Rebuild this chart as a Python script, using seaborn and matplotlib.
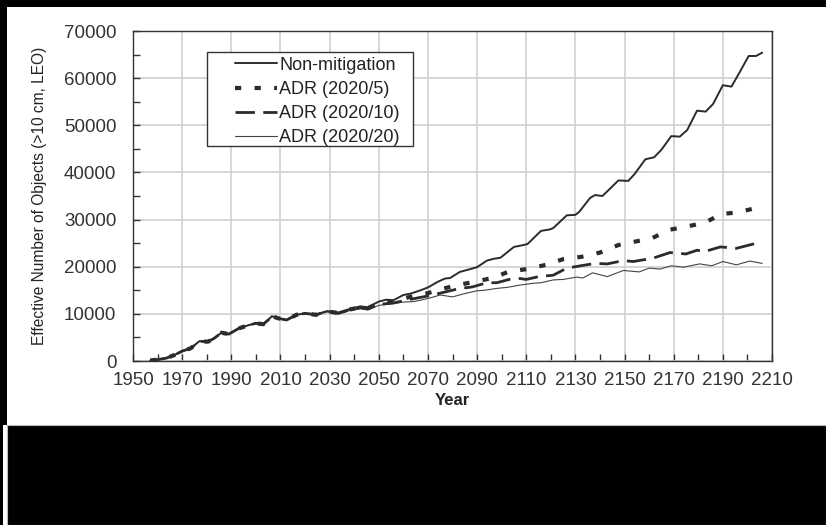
import numpy as np
import pandas as pd
import seaborn as sns
import matplotlib.pyplot as plt
from matplotlib.patches import Rectangle

# shared history, thousands of objects
hist_years = [1957, 1960, 1963.5, 1967, 1970, 1973.5, 1977, 1980.5, 1983, 1986, 1989,
              1993, 1997, 2000, 2003, 2005, 2006.5, 2009.5, 2012.5, 2016.5, 2020]
hist_vals = [0.1, 0.3, 0.6, 1.3, 2.1, 2.7, 4.2, 4.1, 4.8, 6.0, 5.7,
             6.9, 7.6, 8.0, 7.8, 8.7, 9.5, 9.0, 8.7, 9.8, 10.1]

# Non-mitigation
nm_years = [2024.5, 2029, 2033.5, 2038, 2042.5, 2045.5, 2050, 2053, 2056, 2060, 2063,
            2067, 2070, 2074, 2077, 2079, 2083, 2088, 2090, 2094, 2097, 2099.5, 2105,
            2108, 2110.5, 2116, 2119.5, 2121, 2126.5, 2130, 2131.5, 2136, 2138, 2141,
            2143, 2147.5, 2151.5, 2154, 2158.5, 2162, 2165, 2169, 2172.5, 2175.5,
            2179.5, 2183, 2186, 2190, 2193.5, 2197, 2200.5, 2203.5, 2206]
nm_vals = [9.9, 10.6, 10.3, 11.0, 11.6, 11.4, 12.6, 13.0, 12.9, 14.0, 14.3,
           15.0, 15.6, 16.8, 17.5, 17.6, 18.9, 19.6, 19.9, 21.3, 21.7, 21.9, 24.2,
           24.5, 24.8, 27.6, 27.9, 28.2, 30.9, 31.0, 31.6, 34.6, 35.2, 35.0,
           36.0, 38.3, 38.2, 39.6, 42.8, 43.2, 44.8, 47.7, 47.6, 49.0,
           53.1, 52.9, 54.5, 58.5, 58.2, 61.4, 64.7, 64.7, 65.4]

# ADR (2020/5)
a5_years = [2024.5, 2029, 2033.5, 2038, 2042.5, 2045.5, 2050, 2056, 2061, 2066, 2070,
            2075, 2082, 2089, 2097, 2103, 2110.5, 2118, 2125, 2132.5, 2140,
            2147.5, 2154, 2161, 2168, 2175, 2182.5, 2189.5, 2196, 2203, 2205.5]
a5_vals = [9.8, 10.5, 10.2, 10.9, 11.4, 11.2, 12.2, 12.6, 13.4, 13.9, 14.4,
           15.2, 16.1, 16.8, 17.7, 19.0, 19.5, 20.4, 21.6, 22.1, 23.0,
           24.6, 25.3, 26.0, 27.8, 28.5, 29.3, 31.2, 31.5, 32.4, 31.9]

# ADR (2020/10)
a10_years = [2024.5, 2029, 2033.5, 2038, 2042.5, 2045.5, 2050, 2056, 2061, 2066, 2071,
             2077.5, 2083, 2088, 2094, 2098, 2103, 2107.5, 2110, 2115, 2121,
             2126.5, 2134.5, 2138, 2143, 2149.5, 2153.5, 2161.5, 2168.5, 2175, 2179.5,
             2182.5, 2189, 2195.5, 2203, 2205.5]
a10_vals = [9.8, 10.5, 10.1, 10.8, 11.3, 11.0, 12.0, 12.3, 12.9, 13.4, 13.9,
            14.7, 15.4, 15.7, 16.6, 16.6, 17.3, 17.5, 17.3, 17.9, 18.2,
            19.7, 20.4, 20.7, 20.6, 21.3, 21.1, 21.8, 23.0, 22.7, 23.5,
            23.2, 24.2, 23.9, 24.9, 24.6]

# ADR (2020/20)
a20_years = [2024.5, 2029, 2033.5, 2038, 2042.5, 2045.5, 2050, 2056, 2060, 2064, 2067,
             2071, 2075, 2080, 2085, 2090, 2093, 2098, 2102, 2107.5, 2113,
             2116, 2121, 2125, 2130.5, 2133, 2137, 2143, 2149.5, 2156, 2160,
             2164.5, 2169, 2174, 2180.5, 2185.5, 2190, 2195.5, 2201, 2206]
a20_vals = [9.7, 10.4, 10.0, 10.7, 11.1, 10.9, 11.8, 12.2, 12.5, 12.6, 12.9,
            13.4, 14.0, 13.6, 14.3, 14.9, 15.0, 15.4, 15.6, 16.1, 16.5,
            16.6, 17.2, 17.3, 17.8, 17.6, 18.7, 17.9, 19.2, 18.9, 19.7,
            19.5, 20.2, 19.9, 20.6, 20.2, 21.1, 20.4, 21.2, 20.7]

x_major = list(range(1950, 2211, 20))
x_minor = list(range(1960, 2211, 20))
y_major = list(range(0, 70001, 10000))
y_minor = list(range(5000, 70000, 10000))

sns.set_style("whitegrid")
plt.rcParams['font.family'] = ['Liberation Sans', 'DejaVu Sans']

fig = plt.figure(figsize=(8.26, 5.25), dpi=100, facecolor='black')
W, H = 826, 525
# white page area and black band at the bottom
fig.patches.append(Rectangle((7 / W, (H - 425) / H), 1 - 7 / W, 418 / H,
                             transform=fig.transFigure, facecolor='white',
                             edgecolor='none', zorder=-5))
fig.patches.append(Rectangle((3 / W, 0), 4 / W, (H - 425) / H,
                             transform=fig.transFigure, facecolor='white',
                             edgecolor='none', zorder=-5))
fig.patches.append(Rectangle((7 / W, 0), 1 - 7 / W, (H - 425) / H,
                             transform=fig.transFigure, facecolor='black',
                             edgecolor='#bbbbbb', linewidth=0.8, zorder=-5))

ax = fig.add_axes([133 / W, (H - 361) / H, (772 - 133) / W, (361 - 31) / H])
ax.set_zorder(2)


def series(years, vals):
    return pd.DataFrame({'Year': hist_years + years,
                         'N': [v * 1000 for v in hist_vals + vals]})


line_col = '#2b2b2b'
sns.lineplot(data=series(a20_years, a20_vals), x='Year', y='N', ax=ax,
             color='#444444', lw=0.8, label='ADR (2020/20)')
sns.lineplot(data=series(a10_years, a10_vals), x='Year', y='N', ax=ax,
             color=line_col, lw=2.0, linestyle=(0, (7, 3)), label='ADR (2020/10)')
sns.lineplot(data=series(a5_years, a5_vals), x='Year', y='N', ax=ax,
             color=line_col, lw=3.0, linestyle=(0, (1.5, 3.2)), label='ADR (2020/5)')
sns.lineplot(data=series(nm_years, nm_vals), x='Year', y='N', ax=ax,
             color=line_col, lw=1.4, label='Non-mitigation')

ax.set_xlim(1950, 2210)
ax.set_ylim(0, 70000)
ax.set_xticks(x_major)
ax.set_xticks(x_minor, minor=True)
ax.set_yticks(y_major)
ax.set_yticks(y_minor, minor=True)
ax.grid(True, which='major', color='#cfcfcf', lw=1.2)
ax.grid(False, which='minor')
ax.tick_params(which='both', direction='in', colors='#333333', labelsize=13.5,
               bottom=True, left=True, length=5, width=1)
ax.tick_params(axis='y', pad=12)
ax.tick_params(axis='x', pad=8)
for s in ax.spines.values():
    s.set_color('#333333')
    s.set_linewidth(1.0)
ax.set_axisbelow(True)

ax.set_xlabel('Year', fontsize=12, fontweight='bold', color='#222222')
ax.xaxis.set_label_coords(0.5, -0.098)
ax.set_ylabel('Effective Number of Objects (>10 cm, LEO)', fontsize=11.2,
              color='#222222')
ax.yaxis.label.set_verticalalignment('center')
ax.yaxis.set_label_coords(-0.147, 0.5)

# legend: own frame, wider on the left like the original
ax.add_patch(Rectangle((0.1158, 0.6515), 0.3224, 0.2848, transform=ax.transAxes,
                       facecolor='white', edgecolor='#333333', lw=1.0, zorder=4.5))
h, l = ax.get_legend_handles_labels()
order = [3, 2, 1, 0]
leg = ax.legend([h[i] for i in order], [l[i] for i in order],
                loc='upper left', bbox_to_anchor=(0.1596, 0.922),
                fontsize=13, frameon=False,
                handlelength=2.35, handletextpad=0.1, labelspacing=0.4,
                borderpad=0, borderaxespad=0)
for t in leg.get_texts():
    t.set_color('#222222')

fig.savefig('out.png', dpi=100, facecolor='black')
